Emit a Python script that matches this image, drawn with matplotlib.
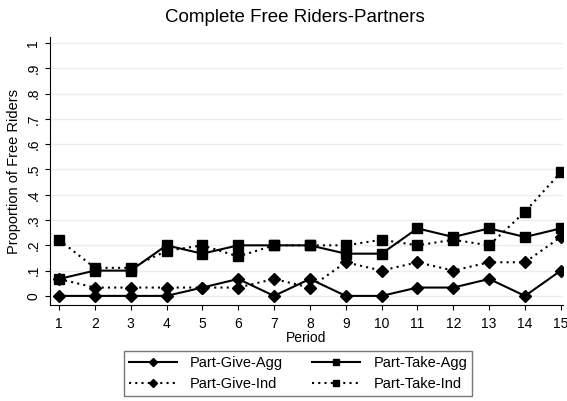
import matplotlib.pyplot as plt

plt.rcParams['font.family'] = ['Liberation Sans', 'DejaVu Sans']

periods = list(range(1, 16))

# proportions of free riders by period
give_agg = [0, 0, 0, 0, 0.033, 0.067, 0, 0.067, 0, 0, 0.033, 0.033, 0.067, 0, 0.1]
take_agg = [0.067, 0.1, 0.1, 0.2, 0.167, 0.2, 0.2, 0.2, 0.167, 0.167, 0.267, 0.233, 0.267, 0.233, 0.267]
give_ind = [0.067, 0.033, 0.033, 0.033, 0.033, 0.033, 0.067, 0.033, 0.133, 0.1, 0.133, 0.1, 0.133, 0.133, 0.233]
take_ind = [0.222, 0.111, 0.111, 0.178, 0.2, 0.156, 0.2, 0.2, 0.2, 0.222, 0.2, 0.222, 0.2, 0.333, 0.489]

yticks = [i / 10 for i in range(11)]
ytick_labels = ['0', '.1', '.2', '.3', '.4', '.5', '.6', '.7', '.8', '.9', '1']

fig = plt.figure(figsize=(5.67, 4.01), dpi=100)
ax = fig.add_axes([50 / 567, 1 - 305 / 401, 513 / 567, 268 / 401])

ax.plot(periods, give_agg, color='black', lw=1.5, ls='-', marker='D', ms=6, label='Part-Give-Agg')
ax.plot(periods, take_agg, color='black', lw=1.5, ls='-', marker='s', ms=6.5, label='Part-Take-Agg')
ax.plot(periods, give_ind, color='black', lw=1.5, ls=(0, (1, 2)), marker='D', ms=6, label='Part-Give-Ind')
ax.plot(periods, take_ind, color='black', lw=1.5, ls=(0, (1, 2)), marker='s', ms=6.5, label='Part-Take-Ind')

ax.set_xlim(0.75, 15.06)
ax.set_ylim(-0.036, 1.024)
ax.set_xticks(periods)
ax.set_yticks(yticks)
ax.set_yticklabels(ytick_labels, rotation=90, va='center')
ax.tick_params(labelsize=10, color='black')
ax.tick_params(axis='x', pad=5)
ax.yaxis.grid(True, color='#e6eff1', lw=1)
ax.set_axisbelow(True)
for s in ['top', 'right']:
    ax.spines[s].set_visible(False)

ax.set_xlabel('Period', fontsize=10, labelpad=0)
ax.set_ylabel('Proportion of Free Riders', fontsize=10.5, labelpad=4)
fig.text(295 / 567, 1 - 18 / 401, 'Complete Free Riders-Partners', fontsize=13.5,
         ha='center', va='center')

# legend order: give-agg, take-agg / give-ind, take-ind
h, l = ax.get_legend_handles_labels()
order = [0, 2, 1, 3]
leg = fig.legend([h[i] for i in order], [l[i] for i in order], ncol=2,
                 loc='upper center', bbox_to_anchor=(298 / 567, 1 - 344 / 401),
                 fontsize=10.5, frameon=True, fancybox=False, edgecolor='#555555',
                 handlelength=3.3, handletextpad=0.9, columnspacing=2.0,
                 borderpad=0.35, labelspacing=0.45, markerscale=0.65)
leg.get_frame().set_linewidth(1)

fig.savefig('out.png', dpi=100)
